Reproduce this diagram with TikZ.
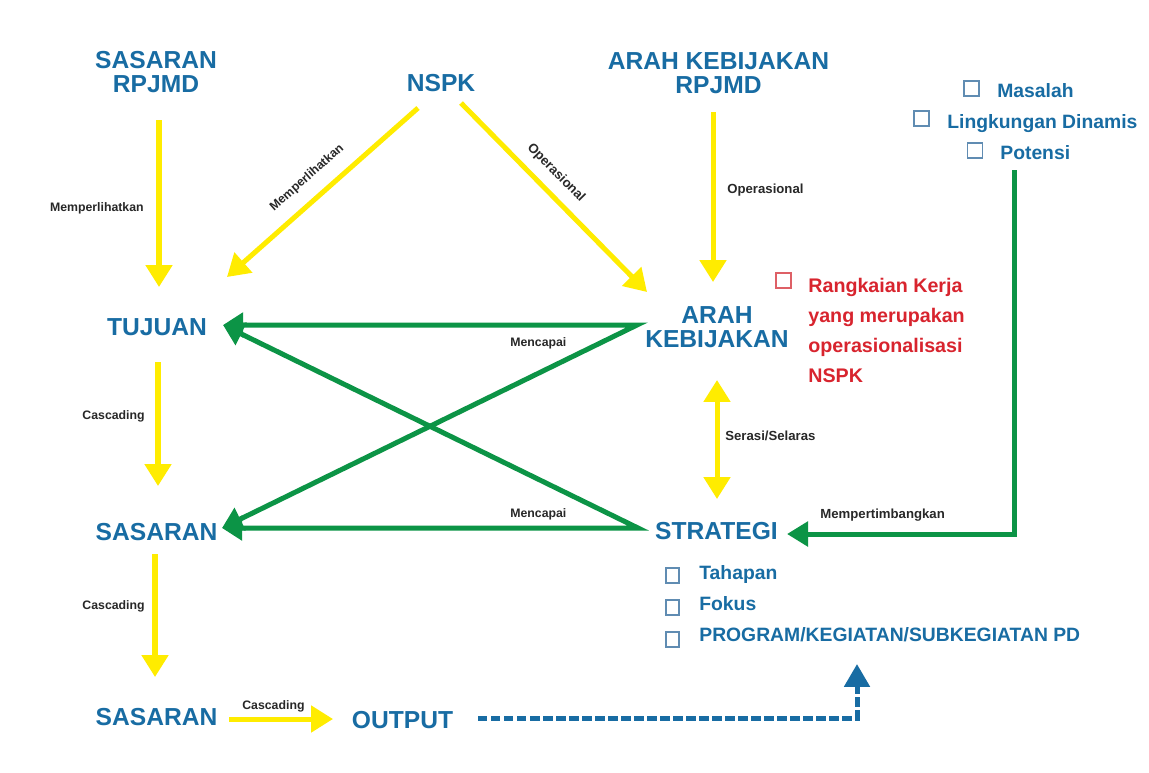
\documentclass[tikz,border=0pt]{standalone}
\usepackage{fontspec}
\setmainfont{Liberation Sans}
\usetikzlibrary{arrows.meta}

\definecolor{tblue}{RGB}{24,108,163}
\definecolor{tyellow}{RGB}{255,236,0}
\definecolor{tgreen}{RGB}{12,148,70}
\definecolor{tred}{RGB}{216,36,46}
\definecolor{lblgray}{RGB}{40,40,40}
\definecolor{boxblue}{RGB}{96,140,178}
\definecolor{boxred}{RGB}{222,96,102}

% multi-line text whose base anchor sits on the first line
\newcommand\linesc[1]{\begin{tabular}[t]{@{}c@{}}#1\end{tabular}}
\newcommand\linesl[1]{\begin{tabular}[t]{@{}l@{}}#1\end{tabular}}

\begin{document}
\begin{tikzpicture}[x=0.02cm,y=-0.02cm,
  title/.style={font=\fontsize{14}{14.2}\selectfont\bfseries, text=tblue,
    inner sep=0pt, anchor=base},
  item/.style={font=\fontsize{11}{13}\selectfont\bfseries, text=tblue,
    inner sep=0pt, anchor=base west},
  note/.style={font=\fontsize{11.2}{17.1}\selectfont\bfseries, text=tred,
    inner sep=0pt, anchor=base west},
  lbl/.style={font=\fontsize{7}{8}\selectfont\bfseries, text=lblgray,
    inner sep=0pt},
  lblw/.style={font=\fontsize{7.5}{8}\selectfont\bfseries, text=lblgray,
    inner sep=0pt},
  chk/.style={draw=boxblue, line width=0.6pt, inner sep=0pt,
    minimum width=0.3cm, minimum height=0.3cm},
  chkred/.style={chk, draw=boxred},
  chks/.style={chk, minimum width=0.26cm},
  yarrow/.style={draw=tyellow, line width=2.85pt,
    -{Triangle[width=14.8pt,length=12.5pt]}},
  ydouble/.style={draw=tyellow, line width=2.85pt,
    {Triangle[width=14.8pt,length=12.5pt]}-{Triangle[width=14.8pt,length=12.5pt]}},
  garrow/.style={draw=tgreen, line width=2.85pt, line join=miter},
  gtip/.style={-{Triangle[width=13.8pt,length=12pt]}},
  gtips/.style={{Triangle[width=13.8pt,length=11.5pt]}-{Triangle[width=13.8pt,length=11.5pt]}},
  barrow/.style={draw=tblue, line width=2.85pt, dash pattern=on 5.4pt off 2pt,
    -{Triangle[width=14.2pt,length=13pt]}}
]
\useasboundingbox (0,0) rectangle (1149,772);
\fill[white] (0,0) rectangle (1149,772);

% ---- main blocks ----
\node[title] (srp)   at (156,68)    {\linesc{SASARAN\\RPJMD}};
\node[title] (nspk)  at (441,91)    {NSPK};
\node[title] (akr)   at (718.5,69)  {\linesc{ARAH KEBIJAKAN\\RPJMD}};
\node[title] (tuj)   at (157,335)   {TUJUAN};
\node[title] (ak)    at (717,323)   {\linesc{ARAH\\KEBIJAKAN}};
\node[title] (sas1)  at (156.5,540) {SASARAN};
\node[title] (strat) at (716.5,539) {STRATEGI};
\node[title] (sas2)  at (156.5,725) {SASARAN};
\node[title] (out)   at (402.5,728) {OUTPUT};

% ---- considerations list (top right) ----
\node[chk] (c1) at (971.5,88.5) {};
\node[item] (masalah) at (997,97) {Masalah};
\node[chk] (c2) at (921.5,118.5) {};
\node[item] (lingk) at (947,128) {Lingkungan Dinamis};
\node[chk] (c3) at (975,150.5) {};
\node[item] (potensi) at (1000,159) {Potensi};

% ---- note beside ARAH KEBIJAKAN ----
\node[chkred] (cr) at (783.5,280.5) {};
\node[note] (rk) at (808,292)
  {\linesl{Rangkaian Kerja\\yang merupakan\\operasionalisasi\\NSPK}};

% ---- strategy contents ----
\node[chks] (s1) at (672.5,575.5) {};
\node[item] (tahap) at (699,579) {Tahapan};
\node[chks] (s2) at (672.5,607.5) {};
\node[item] (fokus) at (699,610) {Fokus};
\node[chks] (s3) at (672.5,639.5) {};
\node[item] (prog) at (699,641) {PROGRAM/KEGIATAN/SUBKEGIATAN PD};

% ---- connector end points ----
\coordinate (srp-s)  at (159,120);
\coordinate (tuj-n)  at (159,287);
\coordinate (nspk-sw) at (418,108);
\coordinate (tuj-ne) at (227,277);
\coordinate (nspk-se) at (461,103);
\coordinate (ak-nw)  at (647,292);
\coordinate (akr-s)  at (713,112);
\coordinate (ak-n)   at (713,282);
\coordinate (ak-s)   at (717,380);
\coordinate (strat-n) at (717,499);
\coordinate (tuj-s)  at (158,362);
\coordinate (sas1-n) at (158,486);
\coordinate (sas1-s) at (155,554);
\coordinate (sas2-n) at (155,677);
\coordinate (sas2-e) at (229,719);
\coordinate (out-w)  at (333,719);
\coordinate (tuj-e)  at (223,325);
\coordinate (sas1-e) at (222,528);
\coordinate (ak-w)   at (637,325);
\coordinate (strat-w) at (638,528);
\coordinate (pot-s)  at (1014,170);
\coordinate (bend)   at (1014,534);
\coordinate (strat-e) at (787,534);
\coordinate (out-e)  at (478,718);
\coordinate (turn)   at (857,718);
\coordinate (prog-s) at (857,664);

% ---- yellow relations ----
\draw[yarrow] (srp-s) -- (tuj-n);
\node[lbl, anchor=base east] at (144,211) {Memperlihatkan};
\draw[yarrow] (nspk-sw) -- (tuj-ne);
\node[lbl, rotate=41.5] at (307,178) {Memperlihatkan};
\draw[yarrow] (nspk-se) -- (ak-nw);
\node[lblw, rotate=-45.5] at (556,173) {Operasional};
\draw[yarrow] (akr-s) -- (ak-n);
\node[lblw, anchor=base west] at (727,193) {Operasional};
\draw[ydouble] (ak-s) -- (strat-n);
\node[lblw, anchor=base west] at (725,440) {Serasi/Selaras};
\draw[yarrow] (tuj-s) -- (sas1-n);
\node[lbl, anchor=base east] at (145,419) {Cascading};
\draw[yarrow] (sas1-s) -- (sas2-n);
\node[lbl, anchor=base east] at (145,609) {Cascading};
\draw[yarrow] (sas2-e) -- (out-w);
\node[lbl, anchor=base west] at (242,709) {Cascading};

% ---- green relations ----
\draw[garrow, gtips] (tuj-e) -- (ak-w) -- (sas1-e);
\node[lbl, anchor=base west] at (510,346) {Mencapai};
\draw[garrow, gtips] (sas1-e) -- (strat-w) -- (tuj-e);
\node[lbl, anchor=base west] at (510,517) {Mencapai};
\draw[garrow, gtip] (pot-s) -- (bend) -- (strat-e);
\node[lblw, anchor=base west] at (820,518) {Mempertimbangkan};

% ---- output feeds the programme list ----
\draw[barrow] (out-e) -- (turn) -- (prog-s);
\end{tikzpicture}
\end{document}
